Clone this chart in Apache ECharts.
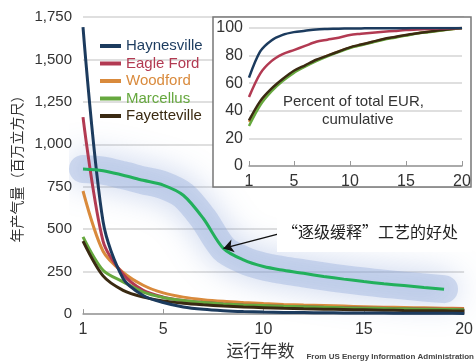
<!DOCTYPE html>
<html>
<head>
<meta charset="utf-8">
<script src="https://cdn.jsdelivr.net/npm/echarts@6/dist/echarts.min.js"></script>
<style>
  html, body { margin: 0; padding: 0; background: #fff; }
  #main { width: 476px; height: 364px; }
</style>
</head>
<body>
<div id="main"></div>
<script>
// years on production
const years = ['1','2','3','4','5','6','7','8','9','10','11','12','13','14','15','16','17','18','19','20'];
const shownYears = ['1', '5', '10', '15', '20'];

// annual gas production, million cubic feet
const haynesville  = [1690, 545, 210, 110, 68, 42, 28, 20, 15, 12, 10, 9, 8, 7, 6, 6, 5, 5, 5, 4];
const eagleFord    = [1160, 430, 235, 140, 100, 80, 68, 60, 54, 50, 46, 43, 40, 38, 36, 34, 32, 30, 29, 28];
const woodford     = [725, 370, 245, 170, 125, 100, 85, 75, 68, 62, 57, 53, 50, 47, 44, 41, 39, 37, 35, 33];
const marcellus    = [455, 258, 190, 130, 98, 80, 68, 60, 54, 50, 46, 43, 40, 37, 35, 33, 31, 29, 27, 26];
const fayetteville = [430, 225, 140, 100, 78, 64, 55, 48, 42, 38, 34, 31, 29, 27, 25, 23, 21, 20, 19, 18];
// the "staged release" curve
const staged       = [855, 845, 818, 788, 760, 700, 563, 387, 319, 280, 258, 240, 222, 206, 192, 179, 168, 157, 147, null];

// inset: cumulative percent of total EUR
const cumHaynesville  = [64, 83, 91, 95, 97, 98, 99, 99.3, 99.5, 99.6, 99.7, 99.8, 99.8, 99.9, 99.9, 100, 100, 100, 100, 100];
const cumEagleFord    = [50, 67, 76, 81, 84, 87, 90, 91.5, 93, 95, 95.8, 96.6, 97.3, 97.9, 98.5, 98.9, 99.3, 99.6, 99.8, 100];
const cumWoodford     = [32, 46, 55.5, 62.5, 68.5, 72.5, 76.5, 80, 83, 85.8, 87.8, 89.8, 91.8, 93.3, 94.8, 96.1, 97.2, 98.2, 99.1, 100];
const cumMarcellus    = [29, 44, 54, 61.5, 67.5, 72, 76, 79.5, 82.5, 85.5, 87.5, 89.5, 91.5, 93, 94.5, 96, 97, 98, 99, 100];
const cumFayetteville = [33, 47, 56, 63, 69, 73, 77, 80, 83, 86, 88, 90, 92, 93.5, 95, 96.2, 97.3, 98.3, 99.2, 100];

const colors = {
  Haynesville: '#1c3b5e',
  'Eagle Ford': '#b23a52',
  Woodford: '#d98a3c',
  Marcellus: '#66a83e',
  Fayetteville: '#3a2a12'
};
const stagedColor = '#22b05c';

const chart = echarts.init(document.getElementById('main'));

const showYear = (idx, val) => shownYears.includes(String(val));

function mainLine(name, data) {
  return {
    name: name, type: 'line', data: data, smooth: 0.3,
    xAxisIndex: 0, yAxisIndex: 0,
    showSymbol: false, z: 2,
    lineStyle: { width: 3, color: colors[name] },
    itemStyle: { color: colors[name] }
  };
}
function insetLine(name, data) {
  return {
    name: name, type: 'line', data: data, smooth: 0.3,
    xAxisIndex: 1, yAxisIndex: 1,
    showSymbol: false, z: 10,
    lineStyle: { width: 2.5, color: colors[name] },
    itemStyle: { color: colors[name] }
  };
}

const options = {
  animation: false,
  textStyle: { fontFamily: 'Arial, "Liberation Sans", sans-serif' },
  grid: [
    { left: 83, right: 4, top: 17, bottom: 48 },
    { left: 249, right: 14, top: 28, bottom: 198 }
  ],
  legend: {
    orient: 'vertical', left: 100, top: 38, padding: 0,
    icon: 'rect', itemWidth: 21, itemHeight: 4, itemGap: 1.5,
    textStyle: { fontSize: 15, lineHeight: 16 },
    data: Object.keys(colors).map(n => ({ name: n, textStyle: { color: colors[n] } }))
  },
  xAxis: [
    {
      gridIndex: 0, type: 'category', data: years, boundaryGap: false,
      name: '运行年数', nameLocation: 'middle', nameGap: 24,
      nameTextStyle: { fontSize: 17, color: '#333', fontFamily: '"Noto Sans CJK SC"', padding: [0, 26, 0, 0] },
      axisLine: { lineStyle: { color: '#999', width: 1.5 } },
      axisTick: { interval: showYear, inside: true, length: 5, lineStyle: { color: '#999' } },
      axisLabel: { interval: showYear, fontSize: 16, color: '#333', margin: 7 },
      splitLine: { show: false }
    },
    {
      gridIndex: 1, type: 'category', data: years, boundaryGap: false, z: 10,
      axisLine: { lineStyle: { color: '#999', width: 1.5 } },
      axisTick: { interval: showYear, inside: true, length: 5, lineStyle: { color: '#999' } },
      axisLabel: { interval: showYear, fontSize: 16, color: '#333', margin: 8 },
      splitLine: { show: false }
    }
  ],
  yAxis: [
    {
      gridIndex: 0, type: 'value', min: 0, max: 1750, interval: 250,
      name: '年产气量（百万立方尺）', nameLocation: 'middle', nameGap: 58,
      nameTextStyle: { fontSize: 14, color: '#333', fontFamily: '"Noto Sans CJK SC"' },
      axisLine: { show: false }, axisTick: { show: false },
      axisLabel: { fontSize: 15, color: '#333', margin: 11, formatter: v => v.toLocaleString('en-US') },
      splitLine: { lineStyle: { color: '#d4d4d4', width: 1.5 } }
    },
    {
      gridIndex: 1, type: 'value', min: 0, max: 100, interval: 20, z: 10,
      axisLine: { show: false }, axisTick: { show: false },
      axisLabel: { fontSize: 16, color: '#333', margin: 6 },
      splitLine: { lineStyle: { color: '#d4d4d4', width: 1.5 } }
    }
  ],
  graphic: [
    // inset frame
    { type: 'rect', z: 6, silent: true,
      shape: { x: 213, y: 17, width: 258, height: 170 },
      style: { fill: '#fff', stroke: '#777', lineWidth: 1.5 } },
    { type: 'text', z: 12, silent: true, left: 283, top: 94,
      style: { text: 'Percent of total EUR,', fontSize: 15, fill: '#333', fontFamily: 'Arial, "Liberation Sans", sans-serif' } },
    { type: 'text', z: 12, silent: true, left: 322, top: 112,
      style: { text: 'cumulative', fontSize: 15, fill: '#333', fontFamily: 'Arial, "Liberation Sans", sans-serif' } },
    // annotation box
    { type: 'rect', z: 6, silent: true,
      shape: { x: 277, y: 217, width: 195, height: 35 },
      style: { fill: '#fff' } },
    { type: 'text', z: 7, silent: true, left: 282, top: 224,
      style: { text: '“逐级缓释”工艺的好处', fontSize: 16, fill: '#222', fontFamily: '"Noto Sans CJK SC"' } },
    { type: 'text', z: 7, silent: true, right: 2, bottom: 3,
      style: { text: 'From US Energy Information Administration', fontSize: 8, fill: '#444', fontFamily: '"Liberation Sans Narrow", Arial', fontWeight: 'bold' } }
  ],
  series: [
    {
      name: 'glow', type: 'line', data: staged, smooth: 0.3, clip: false, silent: true,
      xAxisIndex: 0, yAxisIndex: 0, showSymbol: false, z: 1,
      lineStyle: { width: 28, color: 'rgba(140,165,215,0.36)', cap: 'round', join: 'round',
                   shadowBlur: 32, shadowColor: 'rgba(90,125,200,0.95)' }
    },
    mainLine('Woodford', woodford),
    mainLine('Eagle Ford', eagleFord),
    mainLine('Marcellus', marcellus),
    mainLine('Fayetteville', fayetteville),
    mainLine('Haynesville', haynesville),
    {
      name: '逐级缓释', type: 'line', data: staged, smooth: 0.3,
      xAxisIndex: 0, yAxisIndex: 0, showSymbol: false, z: 3,
      lineStyle: { width: 3, color: stagedColor },
      itemStyle: { color: stagedColor },
      markLine: {
        silent: true, animation: false,
        symbol: ['none', 'arrow'], symbolSize: 10,
        label: { show: false },
        lineStyle: { color: '#111', width: 1.5, type: 'solid' },
        data: [[{ coord: ['11', 480] }, { coord: ['8', 387] }]]
      }
    },
    insetLine('Woodford', cumWoodford),
    insetLine('Marcellus', cumMarcellus),
    insetLine('Fayetteville', cumFayetteville),
    insetLine('Eagle Ford', cumEagleFord),
    insetLine('Haynesville', cumHaynesville)
  ]
};

chart.setOption(options);
</script>
</body>
</html>
